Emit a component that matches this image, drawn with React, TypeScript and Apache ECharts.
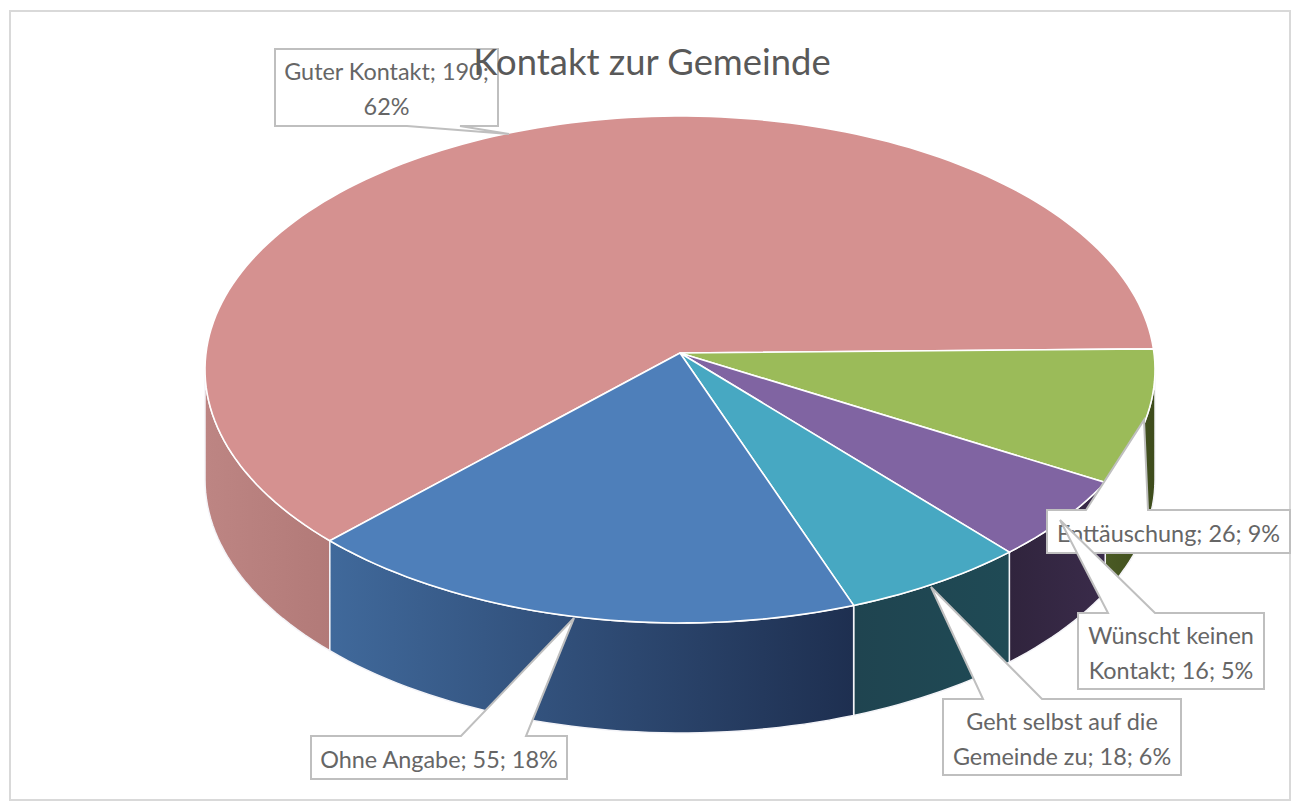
import React, { useEffect, useRef } from "react";
import * as echarts from "echarts";

const titleText = "Kontakt zur Gemeinde";
const categories = ["Guter Kontakt", "Enttäuschung", "Wünscht keinen Kontakt", "Geht selbst auf die Gemeinde zu", "Ohne Angabe"];
const values = [190, 26, 16, 18, 55];
const topColors = ["#D59190", "#9BBB59", "#8064A2", "#47A8C2", "#4E7FBA"];
const sideLeft = ["#BD8583", "#4A5A24", "#30243D", "#1F4450", "#40699B"];
const sideRight = ["#B27A78", "#3E4C1C", "#3A2B4A", "#1F4A55", "#1E2F50"];

// Layout of the callouts, in draw order (index into the data series).
const callouts = [
  { i: 0, x: 275, y: 49, w: 223, h: 77, side: "bottom", a: 407, b: 460, tx: 509, ty: 134, wrap: 19 },
  { i: 4, x: 311, y: 736, w: 256, h: 43, side: "top", a: 461, b: 526, tx: 574, ty: 618, wrap: 40 },
  { i: 3, x: 943, y: 699, w: 238, h: 76, side: "top", a: 983, b: 1042, tx: 931, ty: 587, wrap: 19 },
  { i: 1, x: 1047, y: 510, w: 243, h: 43, side: "top", a: 1086, b: 1148, tx: 1144, ty: 420, wrap: 40 },
  { i: 2, x: 1078, y: 613, w: 186, h: 76, side: "top", a: 1108, b: 1155, tx: 1060, ty: 520, wrap: 16 },
];

// Perspective disc: unit circle projected to the page.
const startDeg = 134.8;
const K = 0.0651, AX = 474, BY = 229.4, CY = 353, CX = 680, DEPTH = 110;
const silhouette = (Math.asin(K) * 180) / Math.PI; // where the rim turns away from the viewer
const project = (deg: number): [number, number] => {
  const r = (deg * Math.PI) / 180;
  const w = 1 - K * Math.sin(r);
  return [CX + (AX * Math.cos(r)) / w, (BY * Math.sin(r) + CY) / w];
};
const total = values.reduce((a, b) => a + b, 0);
const spanOf = (index: number): [number, number] => {
  let s = startDeg;
  for (let i = 0; i < index; i++) s += (values[i] / total) * 360;
  return [s, s + (values[index] / total) * 360];
};
const arcPoints = (a: number, b: number) => {
  const pts: [number, number][] = [];
  const n = Math.max(2, Math.ceil((b - a) / 1.5));
  for (let i = 0; i <= n; i++) pts.push(project(a + ((b - a) * i) / n));
  return pts;
};
const wrapWords = (text: string, max: number) => {
  const lines: string[] = [];
  let cur = "";
  text.split(" ").forEach((w) => {
    const next = cur ? cur + " " + w : w;
    if (next.length > max && cur) {
      lines.push(cur);
      cur = w;
    } else cur = next;
  });
  if (cur) lines.push(cur);
  return lines.join("\n");
};
const labelOf = (i: number) => `${categories[i]}; ${values[i]}; ${Math.round((values[i] / total) * 100)}%`;

export default function App() {
  const ref = useRef<HTMLDivElement>(null);
  useEffect(() => {
    document.body.style.margin = "0";
    const chart = echarts.init(ref.current!, null, { renderer: "svg" });
    const data = values.map((v, i) => ({ value: [v], name: categories[i] }));
    chart.setOption({
      animation: false,
      backgroundColor: "#fff",
      tooltip: { show: false },
      title: {
        text: titleText,
        left: 647,
        top: 38,
        textAlign: "center",
        z: 20,
        textStyle: { fontFamily: "Lato", fontWeight: 400, fontSize: 36.4, color: "#595959" },
      },
      graphic: [
        {
          type: "rect",
          z: -1,
          shape: { x: 10, y: 11, width: 1280, height: 789 },
          style: { fill: "#fff", stroke: "#D9D9D9", lineWidth: 2 },
        },
      ],
      series: [
        {
          type: "custom",
          coordinateSystem: "none",
          silent: true,
          z: 3,
          data,
          renderItem: (params: any) => {
            const idx = params.dataIndex;
            let [s, e] = spanOf(idx);
            if (s >= 200) {
              s -= 360;
              e -= 360;
            }
            const top = arcPoints(Math.max(s, silhouette), Math.min(e, 180 - silhouette));
            const bottom = top.map(([x, y]) => [x, y + DEPTH]).reverse();
            return {
              type: "polygon",
              shape: { points: [...top, ...bottom] },
              style: {
                fill: new echarts.graphic.LinearGradient(0, 0, 1, 0, [
                  { offset: 0, color: sideLeft[idx] },
                  { offset: 1, color: sideRight[idx] },
                ]),
                stroke: "#F4F4F8",
                lineWidth: 1.5,
              },
            };
          },
        },
        {
          type: "custom",
          coordinateSystem: "none",
          silent: true,
          z: 4,
          data,
          renderItem: (params: any) => {
            const [s, e] = spanOf(params.dataIndex);
            return {
              type: "polygon",
              shape: { points: [[CX, CY], ...arcPoints(s, e)] },
              style: { fill: topColors[params.dataIndex], stroke: "#FFFFFF", lineWidth: 1.6 },
            };
          },
        },
        {
          type: "custom",
          coordinateSystem: "none",
          silent: true,
          z: 5,
          data: callouts.map((c) => [c.i]),
          renderItem: (params: any) => {
            const c = callouts[params.dataIndex];
            const r = c.x + c.w;
            const d = c.y + c.h;
            const pts =
              c.side === "top"
                ? [[c.x, c.y], [c.a, c.y], [c.tx, c.ty], [c.b, c.y], [r, c.y], [r, d], [c.x, d]]
                : [[c.x, c.y], [r, c.y], [r, d], [c.b, d], [c.tx, c.ty], [c.a, d], [c.x, d]];
            return {
              type: "group",
              children: [
                {
                  type: "polygon",
                  shape: { points: pts },
                  style: { fill: "#fff", stroke: "#BFBFBF", lineWidth: 2 },
                },
                {
                  type: "text",
                  x: c.x + c.w / 2,
                  y: c.y + c.h / 2 + 1,
                  style: {
                    text: wrapWords(labelOf(c.i), c.wrap),
                    align: "center",
                    verticalAlign: "middle",
                    fontFamily: "Lato",
                    fontSize: 23.4,
                    lineHeight: 35,
                    fill: "#666666",
                  },
                },
              ],
            };
          },
        },
      ],
    });
    return () => chart.dispose();
  }, []);
  return <div ref={ref} style={{ width: 1298, height: 807 }} />;
}
